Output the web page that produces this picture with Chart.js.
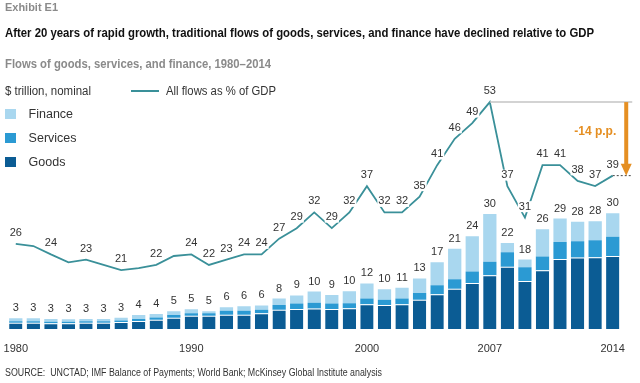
<!DOCTYPE html>
<html><head><meta charset="utf-8">
<script src="https://cdn.jsdelivr.net/npm/chart.js@4.4.0/dist/chart.umd.min.js"></script>
<style>
html,body{margin:0;padding:0;background:#fff;}
#wrap{position:relative;width:640px;height:383px;overflow:hidden;font-family:"Liberation Sans",Arial,sans-serif;}
canvas{position:absolute;left:0;top:0;}
.t{position:absolute;white-space:nowrap;line-height:1;transform-origin:left center;}
.box{position:absolute;width:11px;height:10px;}
</style></head><body>
<div id="wrap">
<canvas id="c" width="640" height="383"></canvas>
<div class="t fit" data-w="53" style="left:5px;top:2.2px;font-size:11px;font-weight:bold;color:#8a8a8a">Exhibit E1</div>
<div class="t fit" data-w="589" style="left:5px;top:27.3px;font-size:12.5px;font-weight:bold;color:#111">After 20 years of rapid growth, traditional flows of goods, services, and finance have declined relative to GDP</div>
<div class="t fit" data-w="266" style="left:5px;top:57.5px;font-size:12px;font-weight:bold;color:#8a8a8a">Flows of goods, services, and finance, 1980–2014</div>
<div class="t fit" data-w="86" style="left:5px;top:84.7px;font-size:12px;color:#333">$ trillion, nominal</div>
<div style="position:absolute;left:130.6px;top:89.7px;width:28px;height:2px;background:#3A9099"></div>
<div class="t fit" data-w="110" style="left:166px;top:84.7px;font-size:12px;color:#333">All flows as % of GDP</div>
<div class="box" style="left:5px;top:109.3px;background:#A9D7EF"></div>
<div class="t" style="left:28.6px;top:108px;font-size:12.5px;color:#333">Finance</div>
<div class="box" style="left:5px;top:133.3px;background:#2B9AD3"></div>
<div class="t" style="left:28.6px;top:132px;font-size:12.5px;color:#333">Services</div>
<div class="box" style="left:5px;top:157.3px;background:#0B5C94"></div>
<div class="t" style="left:28.6px;top:156px;font-size:12.5px;color:#333">Goods</div>
<div class="t fit" data-w="377" style="left:5px;top:367.7px;font-size:10px;color:#333">SOURCE:&nbsp; UNCTAD; IMF Balance of Payments; World Bank; McKinsey Global Institute analysis</div>
</div>
<script>
const years = ['1980','1981','1982','1983','1984','1985','1986','1987','1988','1989',
  '1990','1991','1992','1993','1994','1995','1996','1997','1998','1999',
  '2000','2001','2002','2003','2004','2005','2006','2007','2008','2009',
  '2010','2011','2012','2013','2014'];
const goods = [1.6,1.6,1.5,1.5,1.6,1.6,1.8,2.1,2.4,2.9,
  3.4,3.4,3.7,3.7,4.1,5.0,5.2,5.3,5.2,5.4,
  6.4,6.2,6.4,7.6,9.0,10.4,11.9,13.9,16.1,12.4,
  15.2,18.1,18.5,18.6,18.9];
const services = [0.4,0.4,0.4,0.4,0.4,0.4,0.4,0.5,0.6,0.7,
  0.7,0.7,1.0,1.0,0.9,1.2,1.4,1.5,1.4,1.3,
  1.5,1.4,1.5,1.7,2.3,2.5,3.0,3.5,3.8,3.6,
  3.6,4.4,4.2,4.4,5.0];
const finance = [0.8,0.8,0.7,0.6,0.6,0.6,0.7,1.0,0.9,1.0,
  1.0,0.5,0.9,1.2,1.1,1.7,2.1,2.9,2.2,3.1,
  3.9,2.7,2.8,3.8,6.0,7.9,9.1,12.4,2.4,2.0,
  7.0,6.1,5.1,4.9,6.1];
const pctGDP = [26,25.6,24,22.5,23,22,21,21.4,22,23.7,
  24,22,23,24,24,27,29,32,29,32,
  37,32,32,35,41,46,49,53,37,31,
  41,41,38,37,39];
const unlabeledYears = ['1981','1983','1985','1987','1989'];
const tickYears = ['1980','1990','2000','2007','2014'];

const FONT = '"Liberation Sans", Arial, sans-serif';
const TEAL = '#3A9099', ORANGE = '#E58F22';

const overlay = {
  id: 'overlay',
  afterDatasetsDraw(chart) {
    const ctx = chart.ctx, xs = chart.scales.x, ys = chart.scales.y, y2 = chart.scales.y2;
    ctx.save();
    // annotation
    const peak = Math.max(...pctGDP);
    const peakIdx = pctGDP.indexOf(peak);
    const lastIdx = pctGDP.length - 1;
    const end = pctGDP[lastIdx];
    const xLast = xs.getPixelForValue(lastIdx);
    const ax = xLast + 13.5;
    const yTop = y2.getPixelForValue(peak), yBot = y2.getPixelForValue(end);
    ctx.strokeStyle = '#c4c4c4'; ctx.lineWidth = 1.5;
    ctx.beginPath(); ctx.moveTo(xs.getPixelForValue(peakIdx), yTop); ctx.lineTo(ax + 6, yTop); ctx.stroke();
    ctx.strokeStyle = '#444'; ctx.lineWidth = 1; ctx.setLineDash([2, 2]);
    ctx.beginPath(); ctx.moveTo(xLast, yBot); ctx.lineTo(ax + 6, yBot); ctx.stroke();
    ctx.setLineDash([]);
    ctx.strokeStyle = ORANGE; ctx.lineWidth = 4;
    ctx.beginPath(); ctx.moveTo(ax, yTop); ctx.lineTo(ax, yBot - 11); ctx.stroke();
    ctx.fillStyle = ORANGE;
    ctx.beginPath(); ctx.moveTo(ax - 5.5, yBot - 12); ctx.lineTo(ax + 5.5, yBot - 12); ctx.lineTo(ax, yBot); ctx.closePath(); ctx.fill();
    ctx.font = 'bold 12px ' + FONT; ctx.textAlign = 'center'; ctx.textBaseline = 'middle';
    ctx.fillText((end - peak) + ' p.p.', ax - 31, yTop + 30);

    ctx.font = '11px ' + FONT;
    // bar totals
    years.forEach((yr, i) => {
      const tot = goods[i] + services[i] + finance[i];
      ctx.fillStyle = '#333';
      ctx.fillText(String(Math.round(tot)), xs.getPixelForValue(i), ys.getPixelForValue(tot) - 10);
    });
    // line labels
    years.forEach((yr, i) => {
      if (unlabeledYears.includes(yr)) return;
      const txt = String(Math.round(pctGDP[i]));
      const px = xs.getPixelForValue(i), py = y2.getPixelForValue(pctGDP[i]) - 11;
      const w = ctx.measureText(txt).width + 2;
      ctx.fillStyle = '#fff';
      ctx.fillRect(px - w / 2, py - 5.5, w, 11);
      ctx.fillStyle = '#333';
      ctx.fillText(txt, px, py);
    });
    // x ticks
    tickYears.forEach(yr => {
      ctx.fillStyle = '#333';
      ctx.fillText(yr, xs.getPixelForValue(years.indexOf(yr)), 348.5);
    });
    ctx.restore();
  }
};

new Chart(document.getElementById('c'), {
  data: {
    labels: years,
    datasets: [
      { type: 'line', label: 'All flows as % of GDP', data: pctGDP, yAxisID: 'y2',
        borderColor: TEAL, borderWidth: 1.8, pointRadius: 0, tension: 0, fill: false, clip: false, order: 0 },
      { type: 'bar', label: 'Goods', data: goods, yAxisID: 'y', stack: 's', backgroundColor: '#0B5C94',
        borderColor: '#ffffff', borderWidth: { top: 1, left: 0, right: 0, bottom: 0 }, borderSkipped: false, order: 1 },
      { type: 'bar', label: 'Services', data: services, yAxisID: 'y', stack: 's', backgroundColor: '#2B9AD3', borderWidth: 0, order: 1 },
      { type: 'bar', label: 'Finance', data: finance, yAxisID: 'y', stack: 's', backgroundColor: '#A9D7EF', borderWidth: 0, order: 1 }
    ]
  },
  options: {
    responsive: false, animation: false, devicePixelRatio: 1,
    layout: { padding: { left: 7, right: 18.5, top: 100, bottom: 54 } },
    datasets: { bar: { barPercentage: 0.757, categoryPercentage: 1 } },
    plugins: { legend: { display: false }, tooltip: { enabled: false } },
    scales: {
      x: { type: 'category', display: false, offset: true, stacked: true, grid: { display: false } },
      y: { display: false, stacked: true, min: 0, max: 59.3 },
      y2: { display: false, stacked: false, min: 9.8, max: 53.4 }
    }
  },
  plugins: [overlay]
});

document.querySelectorAll('.fit').forEach(el => {
  const target = parseFloat(el.dataset.w);
  const w = el.getBoundingClientRect().width;
  if (w > 0) el.style.transform = 'scaleX(' + (target / w) + ')';
});
</script>
</body></html>
